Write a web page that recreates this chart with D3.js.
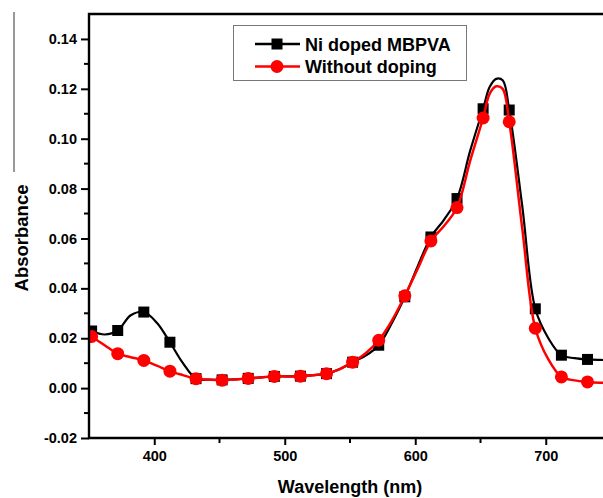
<!DOCTYPE html>
<html>
<head>
<meta charset="utf-8">
<script src="https://cdn.jsdelivr.net/npm/d3@7"></script>
<style>
  body { margin: 0; background: #fff; }
  svg { display: block; font-family: "Liberation Sans", Arial, sans-serif; font-weight: bold; }
</style>
</head>
<body>
<div id="chart"></div>
<script>
const width = 603, height = 498;

// wavelength (nm) of the traced spectra
const wavelength = [352, 362, 372, 382, 392, 402, 412, 422, 432, 442, 452, 462, 472, 482, 492, 502, 512, 522, 532, 542,
  552, 562, 572, 582, 592, 602, 612, 622, 632, 642, 652, 657, 662, 667, 672, 682, 692, 702, 712, 722, 732, 742, 750];

const niDoped = [0.0229, 0.0215, 0.0231, 0.0292, 0.0305, 0.0262, 0.0184, 0.0100, 0.0038, 0.0034, 0.0033, 0.0035, 0.0039, 0.0043,
  0.0047, 0.0047, 0.0048, 0.0052, 0.0058, 0.0076, 0.0104, 0.0130, 0.0172, 0.0260, 0.0366, 0.0490, 0.0606, 0.0675, 0.0760,
  0.0950, 0.1120, 0.1207, 0.1240, 0.1234, 0.1115, 0.0730, 0.0318, 0.0200, 0.0132, 0.0120, 0.0115, 0.0113, 0.0112];

const noDoping = [0.0207, 0.0172, 0.0138, 0.0124, 0.0111, 0.0090, 0.0068, 0.0052, 0.0038, 0.0034, 0.0032, 0.0035, 0.0039, 0.0043,
  0.0047, 0.0047, 0.0048, 0.0052, 0.0058, 0.0076, 0.0104, 0.0140, 0.0192, 0.0270, 0.0370, 0.0480, 0.0590, 0.0650, 0.0724,
  0.0910, 0.1083, 0.1180, 0.1210, 0.1200, 0.1068, 0.0640, 0.0240, 0.0115, 0.0045, 0.0031, 0.0025, 0.0022, 0.0021];

// symbols sit on every 20 nm
const markerWl = [352, 372, 392, 412, 432, 452, 472, 492, 512, 532, 552, 572, 592, 612, 632, 652, 672, 692, 712, 732];

const xTicks = [400, 500, 600, 700];
const xMinor = [450, 550, 650];
const yTicks = [-0.02, 0.00, 0.02, 0.04, 0.06, 0.08, 0.10, 0.12, 0.14];
const yMinor = [-0.01, 0.01, 0.03, 0.05, 0.07, 0.09, 0.11, 0.13];

const series = [
  { name: "Ni doped MBPVA", values: niDoped, color: "#000", shape: "square" },
  { name: "Without doping", values: noDoping, color: "#ff0000", shape: "circle" }
];

const x = d3.scaleLinear().domain([350, 750]).range([89, 611]);
const y = d3.scaleLinear().domain([-0.02, 0.15]).range([438, 14]);

const svg = d3.select("#chart").append("svg")
  .attr("width", width)
  .attr("height", height);

svg.append("rect").attr("width", width).attr("height", height).attr("fill", "#fff");

// faint edge line left over in the scan
svg.append("line")
  .attr("x1", 14).attr("x2", 14).attr("y1", 12).attr("y2", 172)
  .attr("stroke", "#333").attr("stroke-width", 1);

const plot = svg.append("g");

plot.append("defs").append("clipPath").attr("id", "clip")
  .append("rect").attr("x", 89).attr("y", 14).attr("width", 522).attr("height", 424);

const line = d3.line()
  .x((d, i) => x(wavelength[i]))
  .y(d => y(d))
  .curve(d3.curveCatmullRom.alpha(0.5));

series.forEach(s => {
  const g = plot.append("g").attr("clip-path", "url(#clip)");
  g.append("path")
    .datum(s.values)
    .attr("fill", "none")
    .attr("stroke", s.color)
    .attr("stroke-width", s.shape === "circle" ? 2.5 : 2.2)
    .attr("d", line);

  const pts = wavelength
    .map((w, i) => ({ w, v: s.values[i] }))
    .filter(d => markerWl.includes(d.w));

  if (s.shape === "square") {
    g.selectAll("rect.pt").data(pts).enter().append("rect")
      .attr("x", d => x(d.w) - 5.5)
      .attr("y", d => y(d.v) - 5.5)
      .attr("width", 11).attr("height", 11)
      .attr("fill", s.color);
  } else {
    g.selectAll("circle.pt").data(pts).enter().append("circle")
      .attr("cx", d => x(d.w))
      .attr("cy", d => y(d.v))
      .attr("r", 6.5)
      .attr("fill", s.color);
  }
});

// axes
const xAxis = svg.append("g").attr("transform", "translate(0,438)");
xAxis.call(d3.axisBottom(x).tickValues(xTicks).tickSize(7).tickPadding(6).tickFormat(d3.format("d")));
xAxis.append("g").selectAll("line").data(xMinor).enter().append("line")
  .attr("x1", d => x(d)).attr("x2", d => x(d)).attr("y1", 0).attr("y2", 5)
  .attr("stroke", "#000").attr("stroke-width", 2);

const fmtY = d => d3.format(".2f")(d).replace("−", "-");
const yAxis = svg.append("g").attr("transform", "translate(89,0)");
yAxis.call(d3.axisLeft(y).tickValues(yTicks).tickSize(8).tickPadding(4).tickFormat(fmtY));
yAxis.append("g").selectAll("line").data(yMinor).enter().append("line")
  .attr("y1", d => y(d)).attr("y2", d => y(d)).attr("x1", 0).attr("x2", -5)
  .attr("stroke", "#000").attr("stroke-width", 2);

[xAxis, yAxis].forEach(a => {
  a.select(".domain").remove();
  a.selectAll(".tick line").attr("stroke", "#000").attr("stroke-width", 2);
  a.selectAll(".tick text")
    .attr("fill", "#000")
    .attr("font-size", "14.5px")
    .attr("font-weight", "bold")
    .attr("font-family", "'Liberation Sans', Arial, sans-serif");
});

// frame (left, bottom, top)
svg.append("path")
  .attr("d", `M${x(750)},14H89V438H${x(750)}`)
  .attr("fill", "none")
  .attr("stroke", "#000")
  .attr("stroke-width", 2.4);

// axis titles
svg.append("text")
  .attr("x", 350).attr("y", 493)
  .attr("text-anchor", "middle")
  .attr("font-size", "18px")
  .text("Wavelength (nm)");

svg.append("text")
  .attr("transform", "translate(28,238) rotate(-90)")
  .attr("text-anchor", "middle")
  .attr("font-size", "18.5px")
  .text("Absorbance");

// legend
const legend = svg.append("g");
legend.append("rect")
  .attr("x", 233.5).attr("y", 25.5).attr("width", 233).attr("height", 55)
  .attr("fill", "#fff").attr("stroke", "#777").attr("stroke-width", 1);

series.forEach((s, i) => {
  const ly = 44 + i * 22.5;
  legend.append("line")
    .attr("x1", 255).attr("x2", 300).attr("y1", ly).attr("y2", ly)
    .attr("stroke", s.color).attr("stroke-width", 2.5);
  if (s.shape === "square") {
    legend.append("rect").attr("x", 277 - 5.5).attr("y", ly - 5.5).attr("width", 11).attr("height", 11).attr("fill", s.color);
  } else {
    legend.append("circle").attr("cx", 277).attr("cy", ly).attr("r", 6.5).attr("fill", s.color);
  }
  legend.append("text")
    .attr("x", 305).attr("y", ly + 6.5)
    .attr("font-size", "18px")
    .text(s.name);
});
</script>
</body>
</html>
